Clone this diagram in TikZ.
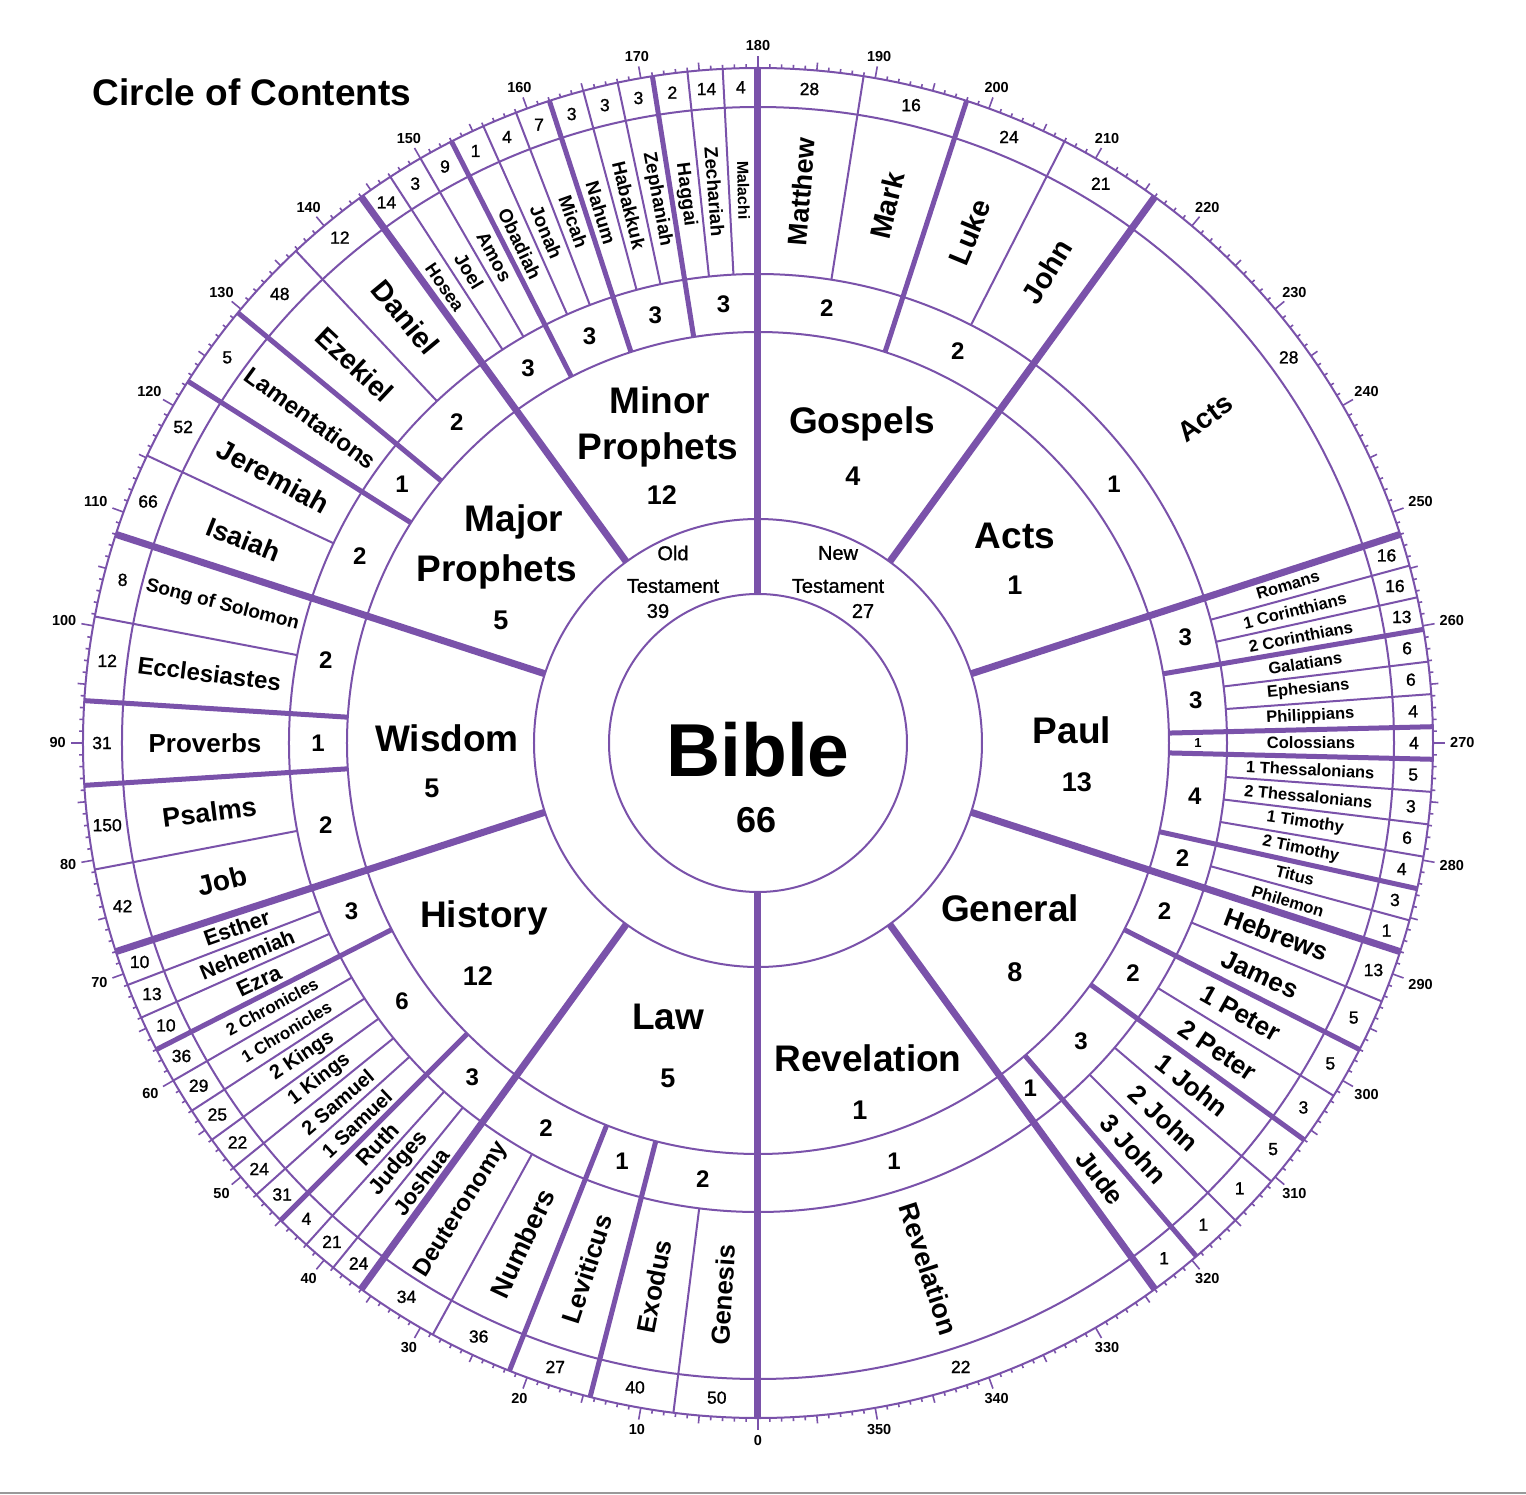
\documentclass[tikz,border=0pt]{standalone}
\usepackage{fontspec}
\setmainfont{Liberation Sans}
\newfontfamily\semib[FakeBold=1.2]{Liberation Sans}
\definecolor{pur}{RGB}{122,82,170}
\tikzset{
  ringl/.style={draw=pur, line width=2pt},
  thinl/.style={draw=pur, line width=2pt},
  subl/.style={draw=pur, line width=5pt},
  catl/.style={draw=pur, line width=7pt},
  tickl/.style={draw=pur, line width=1.6pt},
  bookname/.style={inner sep=0pt, font=\fontsize{#1}{#1}\selectfont\bfseries},
  chapnum/.style={inner sep=0pt, font=\fontsize{17.5}{17.5}\selectfont\semib},
  subnum/.style={inner sep=0pt, font=\fontsize{#1}{#1}\selectfont\bfseries},
  ticklab/.style={inner sep=0pt, font=\fontsize{14.5}{14.5}\selectfont\bfseries},
  catlab/.style={inner sep=0pt, font=\fontsize{37}{37}\selectfont\bfseries},
  catnum/.style={inner sep=0pt, font=\fontsize{27}{27}\selectfont\bfseries},
  testlab/.style={inner sep=0pt, font=\fontsize{20}{20}\selectfont\semib},
}
\begin{document}
\begin{tikzpicture}[x=1pt,y=1pt]
\useasboundingbox (-758,-751) rectangle (768,743);
\fill[white] (-758,-751) rectangle (768,743);
\draw[gray!80, line width=2pt] (-758,-749.5) -- (768,-749.5);

% title
\node[inner sep=0pt, font=\fontsize{37}{37}\selectfont\bfseries] (title) at (-506,651) {Circle of Contents};

% rings
\foreach \r in {149,224,411,469,636,675}{
  \draw[ringl] (0,0) circle (\r);
}

% ticks
\foreach \t in {0,...,359}{
  \pgfmathtruncatemacro\tm{mod(\t,10)==0 ? 12 : (mod(\t,5)==0 ? 8 : 4)}
  \draw[tickl] (270-\t:675) -- (270-\t:675+\tm);
}
\foreach \t in {0,10,...,350}{
  \pgfmathtruncatemacro\an{mod(450-\t,360)}
  \node[ticklab, anchor=\an] (tl\t) at (270-\t:692) {\t};
}

% thin book separators
\foreach \a in {7.2,28.8, 39,42,48,51,54,57,60,66,69, 79.2,100.8, 115.2,136.8,
  147,150,156,159,165,168,174,177, 189,207,
  254.7692,257.5385,263.0769,265.8462,274.1538,276.9231,279.6923,285.2308,
  292.5,301.5,310.5,315}{
  \draw[thinl] (270-\a:469) -- (270-\a:675);
}
% subgroup separators
\foreach \a in {14.4,21.6, 45,63, 86.4,93.6, 122.4,129.6, 153,162,171, 198,
  260.3077,268.6154,271.3846,282.4615, 297,306,319.5}{
  \draw[subl] (270-\a:411) -- (270-\a:675);
}
% category separators
\foreach \a in {36,72,108,144,216,252,288,324}{
  \draw[catl] (270-\a:224) -- (270-\a:675);
}
\foreach \a in {0,180}{
  \draw[catl] (270-\a:149) -- (270-\a:675);
}

% books
\foreach \s/\w/\n/\c/\f [count=\k] in {
  0/7.2/Genesis/50/26, 7.2/7.2/Exodus/40/26, 14.4/7.2/Leviticus/27/26,
  21.6/7.2/Numbers/36/27, 28.8/7.2/Deuteronomy/34/24,
  36/3/Joshua/24/22, 39/3/Judges/21/22, 42/3/Ruth/4/22, 45/3/1 Samuel/31/20,
  48/3/2 Samuel/24/20, 51/3/1 Kings/22/20, 54/3/2 Kings/25/20,
  57/3/1 Chronicles/29/17, 60/3/2 Chronicles/36/17, 63/3/Ezra/10/22,
  66/3/Nehemiah/13/21, 69/3/Esther/10/22,
  72/7.2/Job/42/28, 79.2/7.2/Psalms/150/27, 86.4/7.2/Proverbs/31/26,
  93.6/7.2/Ecclesiastes/12/24, 100.8/7.2/Song of Solomon/8/19,
  108/7.2/Isaiah/66/27, 115.2/7.2/Jeremiah/52/28, 122.4/7.2/Lamentations/5/24,
  129.6/7.2/Ezekiel/48/28, 136.8/7.2/Daniel/12/29,
  144/3/Hosea/14/18, 147/3/Joel/3/19, 150/3/Amos/9/19, 153/3/Obadiah/1/19,
  156/3/Jonah/4/19, 159/3/Micah/7/19, 162/3/Nahum/3/19, 165/3/Habakkuk/3/19,
  168/3/Zephaniah/3/19, 171/3/Haggai/2/19, 174/3/Zechariah/14/19, 177/3/Malachi/4/16,
  180/9/Matthew/28/27, 189/9/Mark/16/29, 198/9/Luke/24/29, 207/9/John/21/29,
  216/36/Acts/28/28,
  252/2.76923/Romans/16/16.5, 254.7692/2.76923/1 Corinthians/16/16.5,
  257.5385/2.76923/2 Corinthians/13/16.5, 260.3077/2.76923/Galatians/6/16.5,
  263.0769/2.76923/Ephesians/6/16.5, 265.8462/2.76923/Philippians/4/16.5,
  268.6154/2.76923/Colossians/4/16.5, 271.3846/2.76923/1 Thessalonians/5/16.5,
  274.1538/2.76923/2 Thessalonians/3/16.5, 276.9231/2.76923/1 Timothy/6/16.5,
  279.6923/2.76923/2 Timothy/4/16.5, 282.4615/2.76923/Titus/3/16.5,
  285.2308/2.76923/Philemon/1/16.5,
  288/4.5/Hebrews/13/26, 292.5/4.5/James/5/26, 297/4.5/1 Peter/5/26,
  301.5/4.5/2 Peter/3/26, 306/4.5/1 John/5/26, 310.5/4.5/2 John/1/26,
  315/4.5/3 John/1/26, 319.5/4.5/Jude/1/26,
  324/36/Revelation/22/27}{
  \pgfmathsetmacro\bm{\s+\w/2}
  \pgfmathsetmacro\bp{270-\bm}
  \pgfmathsetmacro\br{\bm<180 ? 90-\bm : 270-\bm}
  \node[bookname=\f, rotate=\br] (bk\k) at (\bp:553) {\n};
  \node[chapnum] (ch\k) at (\bp:656) {\c};
}

% subgroup counts
\foreach \a/\v/\f [count=\k] in {7.2/2/24, 18/1/24, 28.8/2/24,
  40.5/3/24, 54/6/24, 67.5/3/24,
  79.2/2/24, 90/1/24, 100.8/2/24,
  115.2/2/24, 126/1/24, 136.8/2/24,
  148.5/3/24, 157.5/3/24, 166.5/3/24, 175.5/3/24,
  189/2/24, 207/2/24, 234/1/24,
  256.1538/3/24, 264.4615/3/24, 270/1/13, 276.9231/4/24, 285.2308/2/24,
  292.5/2/24, 301.5/2/24, 312.75/3/24, 321.75/1/24, 342/1/24}{
  \node[subnum=\f] (sg\k) at (270-\a:440) {\v};
}

% categories
\node[catlab] (lawA) at (-90,-274) {Law};
\node[catnum] (lawB) at (-90,-335) {5};
\node[catlab] (hisA) at (-274,-175) {History};
\node[catnum] (hisB) at (-280,-233) {12};
\node[catlab] (wisA) at (-311,5) {Wisdom};
\node[catnum] (wisB) at (-326,-45) {5};
\node[catlab] (majA) at (-244,221) {Major};
\node[catlab] (majB) at (-261,171) {Prophets};
\node[catnum] (majC) at (-257,123) {5};
\node[catlab] (minA) at (-98,343) {Minor};
\node[catlab] (minB) at (-100,293) {Prophets};
\node[catnum] (minC) at (-96,248) {12};
\node[catlab] (gosA) at (104,319) {Gospels};
\node[catnum] (gosB) at (95,267) {4};
\node[catlab] (actA) at (257,207) {Acts};
\node[catnum] (actB) at (257,158) {1};
\node[catlab] (pauA) at (314,13) {Paul};
\node[catnum] (pauB) at (319,-39) {13};
\node[catlab] (genA) at (252,-165) {General};
\node[catnum] (genB) at (257,-229) {8};
\node[catlab] (revA) at (110,-315) {Revelation};
\node[catnum] (revB) at (102,-367) {1};

% testaments
\node[testlab] (otA) at (-85,190) {Old};
\node[testlab] (otB) at (-85,157) {Testament};
\node[testlab] (otC) at (-100,132) {39};
\node[testlab] (ntA) at (80,190) {New};
\node[testlab] (ntB) at (80,157) {Testament};
\node[testlab] (ntC) at (105,132) {27};

% centre
\node[inner sep=0pt, font=\fontsize{75}{75}\selectfont\bfseries] (bible) at (0,-7) {Bible};
\node[inner sep=0pt, font=\fontsize{36}{36}\selectfont\bfseries] (bibn) at (-1,-77) {66};
\end{tikzpicture}
\end{document}
